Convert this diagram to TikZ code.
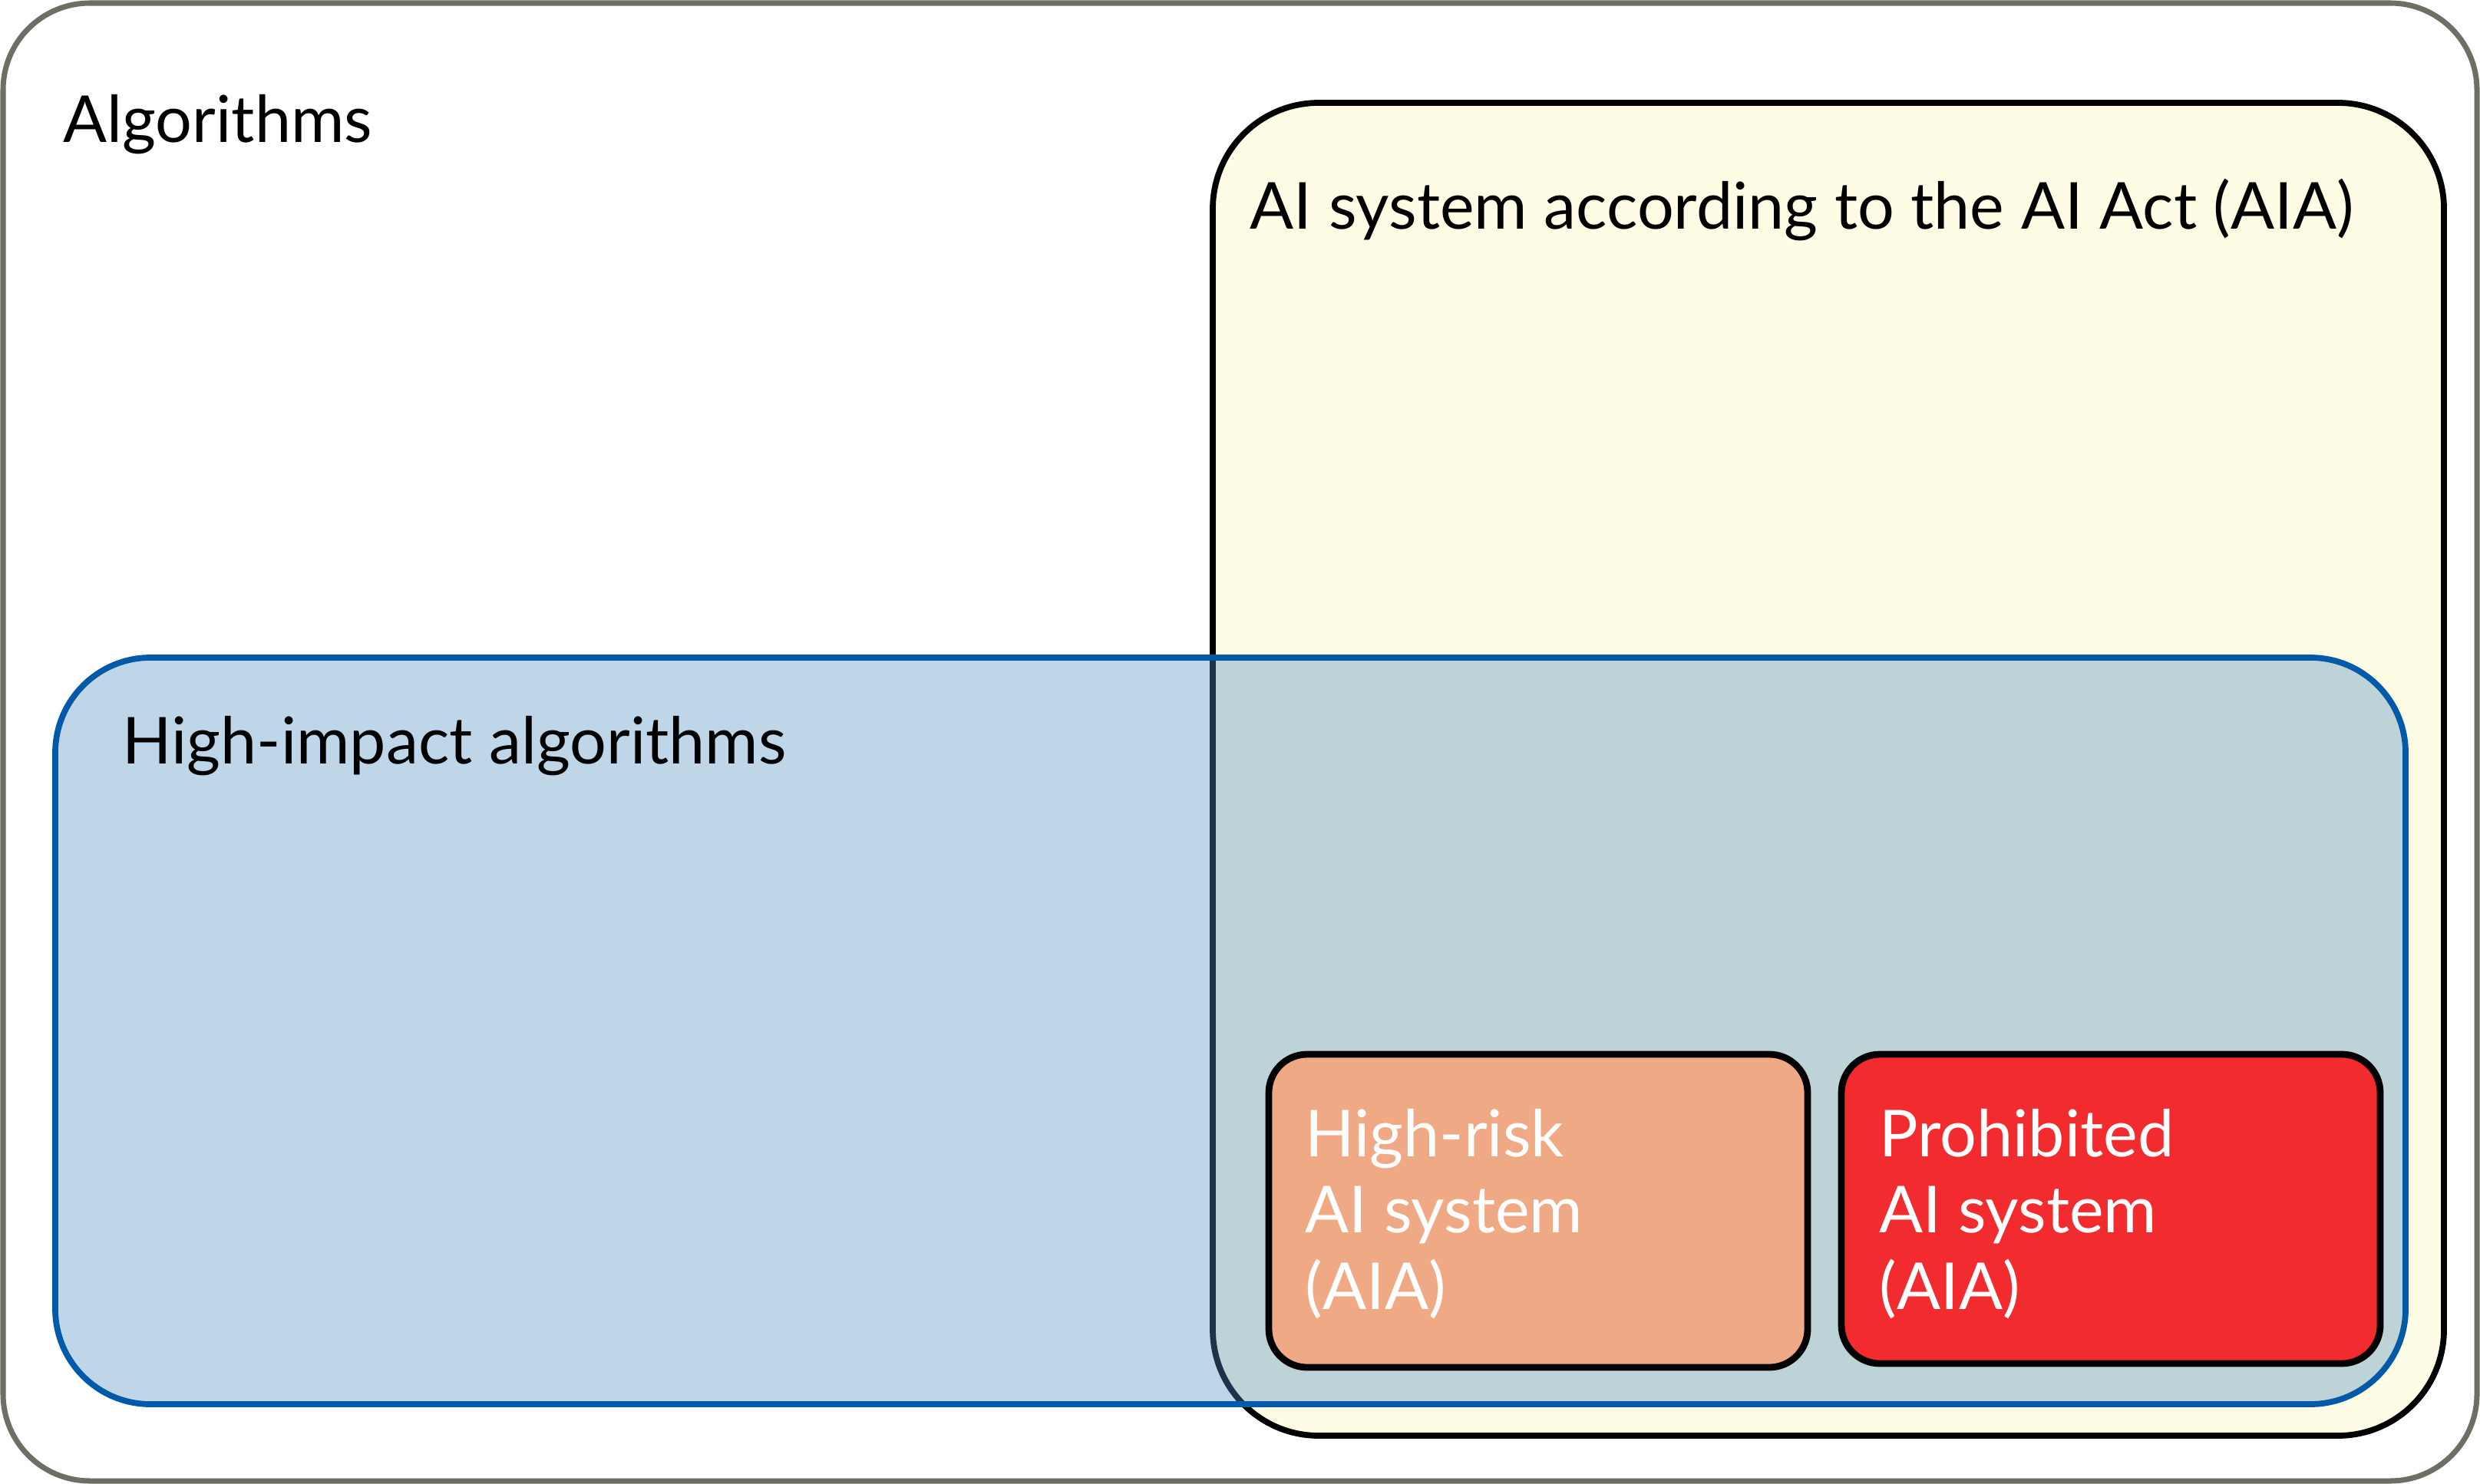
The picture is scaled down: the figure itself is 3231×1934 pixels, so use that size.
\documentclass[tikz,border=0pt]{standalone}
\usepackage{fontspec}
\setmainfont{Lato}
\definecolor{algogray}{RGB}{110,110,100}
\definecolor{aiayellow}{RGB}{254,252,228}
\definecolor{impactblue}{RGB}{82,141,193}
\definecolor{impactline}{RGB}{0,90,168}
\definecolor{riskorange}{RGB}{240,169,133}
\definecolor{banred}{RGB}{242,43,46}
\begin{document}
\begin{tikzpicture}[x=0.01cm,y=-0.01cm,
    lbl/.style={anchor=base west, inner sep=0pt, font=\fontsize{24}{28.2}\selectfont},
    wlbl/.style={lbl, text=white, align=left}]
    \useasboundingbox (0,0) rectangle (3231,1934);
    % outer set
    \draw[algogray, line width=2pt, rounded corners=1.13cm] (4,4) rectangle (3227,1930);
    % AI Act set
    \draw[black, fill=aiayellow, line width=2.2pt, rounded corners=1.38cm] (1580,134) rectangle (3184,1871);
    % high impact set (see-through)
    \draw[impactline, fill=impactblue, fill opacity=0.37, line width=2.2pt, rounded corners=1.24cm] (72,857) rectangle (3134,1830);
    % inner boxes
    \draw[black, fill=riskorange, line width=2.5pt, rounded corners=0.5cm] (1653,1374) rectangle (2355,1782);
    \draw[black, fill=banred, line width=2.5pt, rounded corners=0.5cm] (2399,1374) rectangle (3101,1777);
    \node[lbl] (algo) at (82,186) {Algorithms};
    \node[lbl] (aia) at (1628,299) {AI system according to the AI Act (AIA)};
    \node[lbl] (impact) at (159,995) {High-impact algorithms};
    % base of a multi-line node is its last line
    \node[wlbl] (risk) at (1700,1706) {High-risk\\AI system\\(AIA)};
    \node[wlbl] (ban) at (2448,1706) {Prohibited\\AI system\\(AIA)};
\end{tikzpicture}
\end{document}
